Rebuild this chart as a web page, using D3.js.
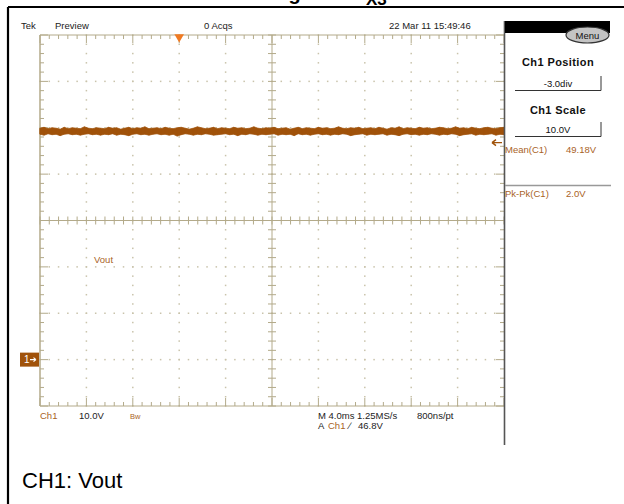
<!DOCTYPE html>
<html>
<head>
<meta charset="utf-8">
<script src="https://cdn.jsdelivr.net/npm/d3@7"></script>
<style>
  html, body { margin: 0; padding: 0; background: #fff; }
  svg { display: block; }
  text { font-family: "Liberation Sans", Arial, sans-serif; }
</style>
</head>
<body>
<svg id="chart" width="624" height="504"></svg>
<script>
// ---- acquisition settings (Ch1, 10 V/div, -3.0 div offset, 4 ms/div) ----
const voltsPerDiv = 10;
const positionDiv = -3.0;
const msPerDiv = 4;
const triggerDiv = 3;          // trigger point, divisions from left edge
const triggerLevel = 46.8;     // V
const meanValue = 49.18;       // V
const pkpkValue = 2.0;         // V

// peak-detect envelope of Ch1 (V), one pair per display column group
const traceMax = [49.9,50.1,49.8,50.0,49.9,49.7,50.1,49.8,50.0,49.9,49.8,50.2,49.9,49.8,50.0,49.9,
  49.8,50.1,49.9,50.0,49.7,49.9,50.1,49.8,50.0,49.9,50.2,49.8,49.9,50.0,49.8,50.1,
  49.9,49.8,50.0,50.1,49.9,49.7,49.9,50.2,50.0,49.8,49.9,50.1,49.8,50.0,49.9,49.8,
  50.1,49.9,50.0,49.8,49.9,50.2,49.9,49.8,50.0,49.9,50.1,49.8,49.9,50.0,49.7,49.9,
  50.1,49.8,50.0,49.9,49.8,50.1,49.9,50.0,49.8,49.9,50.2,49.9,49.8,50.0,49.9,50.1,
  49.8,49.9,50.0,49.8,50.1,49.9,49.7,50.0,49.9,50.2,49.8,50.0,49.9,49.8,50.1,49.9,
  50.0,49.8,49.9,50.1,50.0,49.8,49.9,50.2,49.9,50.0,49.8,50.1,49.9,49.8,50.0,50.1,
  49.9,49.8,50.0,50.1];
const traceMin = [48.6,48.4,48.7,48.5,48.6,48.3,48.6,48.7,48.5,48.6,48.4,48.6,48.7,48.5,48.6,48.4,
  48.6,48.5,48.7,48.4,48.6,48.5,48.3,48.6,48.7,48.5,48.6,48.4,48.6,48.7,48.5,48.6,
  48.4,48.6,48.2,48.5,48.7,48.6,48.4,48.6,48.5,48.7,48.6,48.4,48.5,48.6,48.7,48.5,
  48.6,48.3,48.6,48.5,48.7,48.6,48.4,48.6,48.5,48.6,48.7,48.4,48.6,48.5,48.6,48.3,
  48.7,48.5,48.6,48.4,48.6,48.7,48.5,48.6,48.4,48.6,48.5,48.7,48.6,48.3,48.5,48.6,
  48.7,48.4,48.6,48.5,48.6,48.7,48.4,48.6,48.5,48.3,48.6,48.7,48.5,48.6,48.4,48.6,
  48.5,48.7,48.6,48.4,48.6,48.5,48.7,48.6,48.3,48.5,48.6,48.7,48.4,48.6,48.5,48.6,
  48.7,48.4,48.6,48.5];

// header / readout strings
const headerLabels = ["Tek", "Preview", "0 Acqs", "22 Mar 11 15:49:46"];
const titleMain = "Vout Timing Test R";
const titleSub = "X3";
const caption = "CH1: Vout";

const svg = d3.select("#chart");
const colTan = "#b3aa8a", colDot = "#c9c3ab", colTrace = "#a0520a", colLabel = "#a9631f";

// ---- graticule geometry via scales ----
const nx = 10, ny = 8;
const gx = d3.scaleLinear().domain([0, nx]).range([40, 504]);
const gy = d3.scaleLinear().domain([-ny / 2, ny / 2]).range([406, 35]);
// data scales
const tStart = -triggerDiv * msPerDiv;
const x = d3.scaleLinear().domain([tStart, tStart + nx * msPerDiv]).range(gx.range());
const vBottom = (-ny / 2 - positionDiv) * voltsPerDiv;
const y = d3.scaleLinear().domain([vBottom, vBottom + ny * voltsPerDiv]).range(gy.range());

// ---- outer frame and title (runs off the top edge) ----
svg.append("rect").attr("width", 624).attr("height", 504).attr("fill", "#fff");
const title = svg.append("text").attr("x", 187).attr("y", 0)
  .attr("font-size", 20).attr("font-weight", "bold").attr("fill", "#000");
title.append("tspan").text(titleMain);
title.append("tspan").attr("dy", 5).attr("font-size", 17).text(titleSub);
svg.append("path").attr("d", "M8,7H624 M8,7V504").attr("stroke", "#000").attr("stroke-width", 2.2).attr("fill", "none");

// ---- grid dots on major lines ----
const minorX = d3.range(0, nx * 5 + 1).map(i => i / 5);
const minorY = d3.range(-ny / 2 * 5, ny / 2 * 5 + 1).map(i => i / 5);
const dots = svg.append("g").attr("fill", colDot);
d3.range(1, nx).filter(i => i !== nx / 2).forEach(i => {
  minorY.forEach(v => dots.append("rect").attr("x", gx(i) - 0.75).attr("y", gy(v) - 0.75).attr("width", 1.5).attr("height", 1.5));
});
d3.range(-ny / 2 + 1, ny / 2).filter(j => j !== 0).forEach(j => {
  minorX.forEach(u => dots.append("rect").attr("x", gx(u) - 0.75).attr("y", gy(j) - 0.75).attr("width", 1.5).attr("height", 1.5));
});

// ---- border, centre lines and ticks ----
const g = svg.append("g").attr("stroke", colTan).attr("fill", "none").attr("stroke-width", 1);
g.append("line").attr("x1", gx(0)).attr("x2", gx(nx)).attr("y1", gy(ny / 2)).attr("y2", gy(ny / 2));
g.append("line").attr("x1", gx(0)).attr("x2", gx(nx)).attr("y1", gy(-ny / 2)).attr("y2", gy(-ny / 2));
g.append("line").attr("x1", gx(0)).attr("x2", gx(0)).attr("y1", gy(ny / 2)).attr("y2", gy(-ny / 2)).attr("stroke-width", 1.5);
g.append("line").attr("x1", gx(0)).attr("x2", gx(nx)).attr("y1", gy(0)).attr("y2", gy(0));
g.append("line").attr("x1", gx(nx / 2)).attr("x2", gx(nx / 2)).attr("y1", gy(ny / 2)).attr("y2", gy(-ny / 2));
minorX.forEach(u => {
  const major = Math.abs(u - Math.round(u)) < 1e-6;
  const len = major ? 8 : 4;
  g.append("line").attr("x1", gx(u)).attr("x2", gx(u)).attr("y1", gy(ny / 2)).attr("y2", gy(ny / 2) + len);
  g.append("line").attr("x1", gx(u)).attr("x2", gx(u)).attr("y1", gy(-ny / 2)).attr("y2", gy(-ny / 2) - len);
  g.append("line").attr("x1", gx(u)).attr("x2", gx(u)).attr("y1", gy(0) - 4).attr("y2", gy(0) + 4);
});
minorY.forEach(v => {
  const major = Math.abs(v - Math.round(v)) < 1e-6;
  const len = major ? 8 : 4;
  g.append("line").attr("x1", gx(0)).attr("x2", gx(0) + len).attr("y1", gy(v)).attr("y2", gy(v));
  g.append("line").attr("x1", gx(nx)).attr("x2", gx(nx) - len).attr("y1", gy(v)).attr("y2", gy(v));
  g.append("line").attr("x1", gx(nx / 2) - 4).attr("x2", gx(nx / 2) + 4).attr("y1", gy(v)).attr("y2", gy(v));
});

// ---- Ch1 trace (peak-detect envelope) ----
const step = (x.domain()[1] - x.domain()[0]) / (traceMax.length - 1);
const env = traceMax.map((hi, i) => ({ t: tStart + i * step, hi, lo: traceMin[i] }));
svg.append("path").datum(env)
  .attr("d", d3.area().x(d => x(d.t)).y0(d => y(d.lo)).y1(d => y(d.hi)))
  .attr("fill", colTrace).attr("stroke", colTrace).attr("stroke-width", 0.8);
// individual peak hairlines
svg.append("g").attr("stroke", colTrace).attr("stroke-width", 1)
  .selectAll("line").data(env).join("line")
  .attr("x1", d => x(d.t)).attr("x2", d => x(d.t))
  .attr("y1", d => y(d.hi)).attr("y2", d => y(d.lo));

// ---- markers: trigger position, trigger level, channel ground ----
svg.append("path").attr("d", d3.symbol(d3.symbolTriangle, 40)())
  .attr("transform", `translate(${x(0)},${gy(ny / 2) + 2}) rotate(180)`).attr("fill", "#f07a22");
const ty = y(triggerLevel);
svg.append("path").attr("d", `M${gx(nx) - 2},${ty}H${gx(nx) - 12} M${gx(nx) - 12},${ty}l4,-3 M${gx(nx) - 12},${ty}l4,3`)
  .attr("stroke", colTrace).attr("stroke-width", 1.4).attr("fill", "none");
const gy0 = y(0);
svg.append("rect").attr("x", 20).attr("y", gy0 - 7).attr("width", 19).attr("height", 14).attr("fill", colTrace);
svg.append("text").attr("x", 24).attr("y", gy0 + 3.5).attr("font-size", 10).attr("fill", "#fff").text("1");
svg.append("path").attr("d", `M30,${gy0}h6 M36,${gy0}l-2.5,-2 M36,${gy0}l-2.5,2`).attr("stroke", "#fff").attr("stroke-width", 1.2);

svg.append("text").attr("x", 94).attr("y", 263).attr("font-size", 9.5).attr("fill", colLabel).text("Vout");

// ---- header ----
const hdr = svg.append("g").attr("font-size", 9.5).attr("fill", "#222");
hdr.append("text").attr("x", 21).attr("y", 29).text(headerLabels[0]);
hdr.append("text").attr("x", 55).attr("y", 29).text(headerLabels[1]);
hdr.append("text").attr("x", 204).attr("y", 29).text(headerLabels[2]);
hdr.append("text").attr("x", 389).attr("y", 29).text(headerLabels[3]);

// ---- side panel ----
svg.append("line").attr("x1", 504.5).attr("x2", 504.5).attr("y1", 21).attr("y2", 445).attr("stroke", "#555").attr("stroke-width", 1.6);
svg.append("rect").attr("x", 505).attr("y", 21).attr("width", 105).attr("height", 12).attr("fill", "#000");
svg.append("ellipse").attr("cx", 587.5).attr("cy", 35).attr("rx", 21.5).attr("ry", 8)
  .attr("fill", "#c4c4c4").attr("stroke", "#333").attr("stroke-width", 1.2);
svg.append("text").attr("x", 587.5).attr("y", 38.5).attr("text-anchor", "middle").attr("font-size", 9.5).attr("fill", "#111").text("Menu");

const panelBoxes = [
  { head: "Ch1 Position", value: positionDiv.toFixed(1) + "div", yHead: 66, yVal: 87 },
  { head: "Ch1 Scale", value: voltsPerDiv.toFixed(1) + "V", yHead: 114, yVal: 133 }
];
panelBoxes.forEach(b => {
  svg.append("text").attr("x", 558).attr("y", b.yHead).attr("text-anchor", "middle")
    .attr("font-size", 11).attr("font-weight", "bold").attr("letter-spacing", 0.4).attr("fill", "#111").text(b.head);
  svg.append("text").attr("x", 558).attr("y", b.yVal).attr("text-anchor", "middle")
    .attr("font-size", 9.5).attr("fill", "#111").text(b.value);
  svg.append("path").attr("d", `M515,${b.yVal + 3.5}H601V${b.yVal - 11}`).attr("stroke", "#333").attr("fill", "none").attr("stroke-width", 1);
});
const meas = svg.append("g").attr("font-size", 9.5).attr("fill", colLabel);
meas.append("text").attr("x", 505).attr("y", 153).text("Mean(C1)");
meas.append("text").attr("x", 566).attr("y", 153).text(meanValue.toFixed(2) + "V");
svg.append("line").attr("x1", 505).attr("x2", 611).attr("y1", 185.5).attr("y2", 185.5).attr("stroke", "#999").attr("stroke-width", 1.4);
meas.append("text").attr("x", 505).attr("y", 197).text("Pk-Pk(C1)");
meas.append("text").attr("x", 566).attr("y", 197).text(pkpkValue.toFixed(1) + "V");

// ---- bottom readouts ----
const bot = svg.append("g").attr("font-size", 9.5).attr("fill", "#222");
bot.append("text").attr("x", 40).attr("y", 419).attr("fill", colLabel).text("Ch1");
bot.append("text").attr("x", 79).attr("y", 419).text(voltsPerDiv.toFixed(1) + "V");
bot.append("text").attr("x", 130).attr("y", 419).attr("font-size", 7.5).attr("fill", colLabel).text("Bw");
bot.append("text").attr("x", 318).attr("y", 419).text(`M ${msPerDiv.toFixed(1)}ms 1.25MS/s`);
bot.append("text").attr("x", 417).attr("y", 419).text("800ns/pt");
bot.append("text").attr("x", 318).attr("y", 429).text("A");
bot.append("text").attr("x", 328).attr("y", 429).attr("fill", colLabel).text("Ch1");
bot.append("text").attr("x", 349).attr("y", 429).text("\u2215");
bot.append("text").attr("x", 358).attr("y", 429).text(triggerLevel.toFixed(1) + "V");

// ---- caption ----
svg.append("text").attr("x", 22).attr("y", 488).attr("font-size", 22).attr("fill", "#000").text(caption);
</script>
</body>
</html>
